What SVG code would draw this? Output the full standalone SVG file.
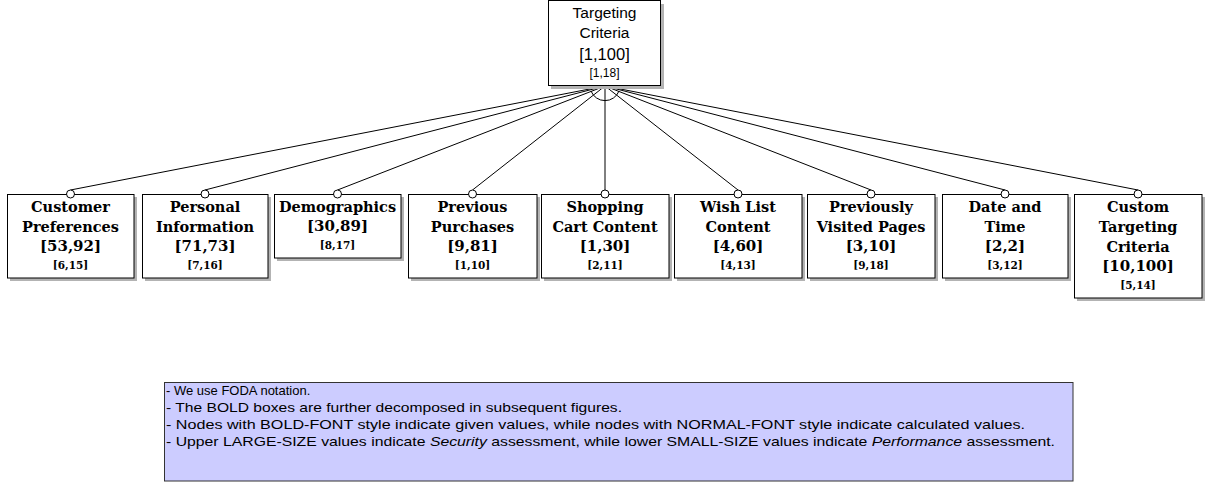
<svg xmlns="http://www.w3.org/2000/svg" width="1210" height="485" viewBox="0 0 1210 485">
<style>
.bg{fill:#fff}
.sh{fill:#b3b3b3}
.box{fill:#fff;stroke:#000;stroke-width:1}
.dot{fill:#fff;stroke:#000;stroke-width:1}
.t{font-family:"DejaVu Serif",serif;font-weight:bold;font-size:14.5px;text-anchor:middle;fill:#000}
.v{font-family:"DejaVu Serif",serif;font-weight:bold;font-size:15px;text-anchor:middle;fill:#000}
.s{font-family:"DejaVu Serif",serif;font-weight:bold;font-size:10.5px;text-anchor:middle;fill:#000}
.rt{font-family:"Liberation Sans",sans-serif;font-size:15.5px;text-anchor:middle;fill:#000}
.rv{font-family:"Liberation Sans",sans-serif;font-size:16.5px;text-anchor:middle;fill:#000}
.rs{font-family:"Liberation Sans",sans-serif;font-size:12px;text-anchor:middle;fill:#000}
.conn line,.conn path{stroke:#000;stroke-width:1;fill:none}
.lg{font-family:"Liberation Sans",sans-serif;font-size:13px;fill:#000}
</style>
<rect class="bg" x="0" y="0" width="1210" height="485"/>

<g id="connectors" class="conn">
<line x1="605" y1="86" x2="70.5" y2="190"/>
<line x1="605" y1="86" x2="205" y2="190"/>
<line x1="605" y1="86" x2="337.5" y2="190"/>
<line x1="605" y1="86" x2="472.5" y2="190"/>
<line x1="605" y1="86" x2="605" y2="190"/>
<line x1="605" y1="86" x2="738" y2="190"/>
<line x1="605" y1="86" x2="871" y2="190"/>
<line x1="605" y1="86" x2="1005" y2="190"/>
<line x1="605" y1="86" x2="1138" y2="190"/>
<path d="M591 91 A15 15 0 0 0 619 91"/>
</g>

<g id="root">
<rect class="sh" x="551" y="4" width="113" height="85"/>
<rect class="box" x="548.5" y="0.5" width="112" height="85"/>
<text class="rt" x="604.5" y="18">Targeting</text>
<text class="rt" x="604.5" y="38">Criteria</text>
<text class="rv" x="604.5" y="60">[1,100]</text>
<text class="rs" x="604.5" y="77">[1,18]</text>
</g>

<g id="customer-preferences">
<rect class="sh" x="10" y="197" width="127" height="84"/>
<rect class="box" x="7.5" y="194.5" width="126.5" height="83.5"/>
<circle class="dot" cx="70.5" cy="194" r="4"/>
<text class="t" x="70.5" y="211.5">Customer</text>
<text class="t" x="70.5" y="231.5">Preferences</text>
<text class="v" x="70.5" y="251">[53,92]</text>
<text class="s" x="70.5" y="269">[6,15]</text>
</g>

<g id="personal-information">
<rect class="sh" x="145" y="197" width="126" height="84"/>
<rect class="box" x="142.5" y="194.5" width="125.5" height="83.5"/>
<circle class="dot" cx="205" cy="194" r="4"/>
<text class="t" x="205" y="211.5">Personal</text>
<text class="t" x="205" y="231.5">Information</text>
<text class="v" x="205" y="251">[71,73]</text>
<text class="s" x="205" y="269">[7,16]</text>
</g>

<g id="demographics">
<rect class="sh" x="277" y="197" width="127" height="64"/>
<rect class="box" x="274.5" y="194.5" width="126.5" height="63.5"/>
<circle class="dot" cx="337.5" cy="194" r="4"/>
<text class="t" x="337.5" y="211.5">Demographics</text>
<text class="v" x="337.5" y="231">[30,89]</text>
<text class="s" x="337.5" y="249">[8,17]</text>
</g>

<g id="previous-purchases">
<rect class="sh" x="411" y="197" width="129" height="84"/>
<rect class="box" x="408.5" y="194.5" width="128.5" height="83.5"/>
<circle class="dot" cx="472.5" cy="194" r="4"/>
<text class="t" x="472.5" y="211.5">Previous</text>
<text class="t" x="472.5" y="231.5">Purchases</text>
<text class="v" x="472.5" y="251">[9,81]</text>
<text class="s" x="472.5" y="269">[1,10]</text>
</g>

<g id="shopping-cart-content">
<rect class="sh" x="544" y="197" width="128" height="84"/>
<rect class="box" x="541.5" y="194.5" width="127.5" height="83.5"/>
<circle class="dot" cx="605" cy="194" r="4"/>
<text class="t" x="605" y="211.5">Shopping</text>
<text class="t" x="605" y="231.5">Cart Content</text>
<text class="v" x="605" y="251">[1,30]</text>
<text class="s" x="605" y="269">[2,11]</text>
</g>

<g id="wish-list-content">
<rect class="sh" x="677" y="197" width="128" height="84"/>
<rect class="box" x="674.5" y="194.5" width="127.5" height="83.5"/>
<circle class="dot" cx="738" cy="194" r="4"/>
<text class="t" x="738" y="211.5">Wish List</text>
<text class="t" x="738" y="231.5">Content</text>
<text class="v" x="738" y="251">[4,60]</text>
<text class="s" x="738" y="269">[4,13]</text>
</g>

<g id="previously-visited-pages">
<rect class="sh" x="810" y="197" width="128" height="84"/>
<rect class="box" x="807.5" y="194.5" width="127.5" height="83.5"/>
<circle class="dot" cx="871" cy="194" r="4"/>
<text class="t" x="871" y="211.5">Previously</text>
<text class="t" x="871" y="231.5">Visited Pages</text>
<text class="v" x="871" y="251">[3,10]</text>
<text class="s" x="871" y="269">[9,18]</text>
</g>

<g id="date-and-time">
<rect class="sh" x="945" y="197" width="126" height="84"/>
<rect class="box" x="942.5" y="194.5" width="125.5" height="83.5"/>
<circle class="dot" cx="1005" cy="194" r="4"/>
<text class="t" x="1005" y="211.5">Date and</text>
<text class="t" x="1005" y="231.5">Time</text>
<text class="v" x="1005" y="251">[2,2]</text>
<text class="s" x="1005" y="269">[3,12]</text>
</g>

<g id="custom-targeting-criteria">
<rect class="sh" x="1077" y="197" width="128" height="104"/>
<rect class="box" x="1074.5" y="194.5" width="127.5" height="103.5"/>
<circle class="dot" cx="1138" cy="194" r="4"/>
<text class="t" x="1138" y="211.5">Custom</text>
<text class="t" x="1138" y="231.5">Targeting</text>
<text class="t" x="1138" y="251.5">Criteria</text>
<text class="v" x="1138" y="271">[10,100]</text>
<text class="s" x="1138" y="289">[5,14]</text>
</g>

<g id="legend">
<rect x="164.5" y="382.5" width="908.5" height="98.5" fill="#ccccff" stroke="#333" stroke-width="1"/>
<text class="lg" x="166" y="395">- We use FODA notation.</text>
<text class="lg" x="166" y="412" textLength="456" lengthAdjust="spacingAndGlyphs">- The BOLD boxes are further decomposed in subsequent figures.</text>
<text class="lg" x="166" y="429" textLength="859" lengthAdjust="spacingAndGlyphs">- Nodes with BOLD-FONT style indicate given values, while nodes with NORMAL-FONT style indicate calculated values.</text>
<text class="lg" x="166" y="446" textLength="889" lengthAdjust="spacingAndGlyphs">- Upper LARGE-SIZE values indicate <tspan font-style="italic">Security</tspan> assessment, while lower SMALL-SIZE values indicate <tspan font-style="italic">Performance</tspan> assessment.</text>
</g>
</svg>
